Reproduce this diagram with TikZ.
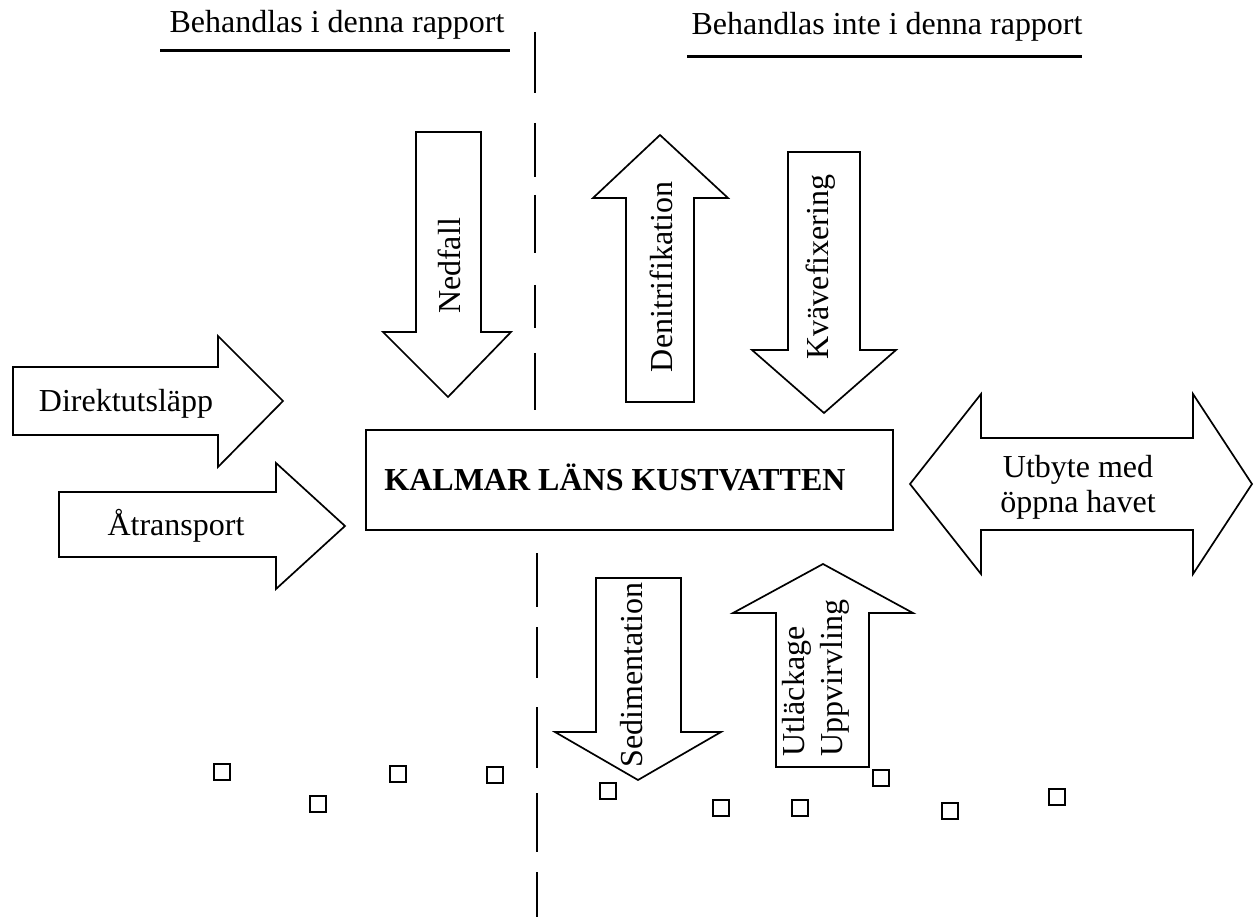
\documentclass[tikz,border=0pt]{standalone}
\usepackage{fontspec}
\setmainfont{Liberation Serif}
\begin{document}
\begin{tikzpicture}[x=1pt,y=-1pt,
  barrow/.style={draw, line width=1.7pt, line join=miter, fill=white},
  lbl/.style={inner sep=0pt, font=\fontsize{32}{35}\selectfont},
  sq/.style={draw, line width=1.9pt, minimum size=16pt, inner sep=0pt},
  dashseg/.style={line width=2.6pt},
  uline/.style={line width=3pt}]
\useasboundingbox (0,0) rectangle (1254,917);

% headers
\node[lbl, anchor=base] (hl) at (337,33) {Behandlas i denna rapport};
\node[lbl, anchor=base] (hr) at (887,35) {Behandlas inte i denna rapport};
\coordinate (hl1) at (160,51); \coordinate (hl2) at (510,51);
\coordinate (hr1) at (687,57); \coordinate (hr2) at (1082,57);
\draw[uline] (hl1) -- (hl2);
\draw[uline] (hr1) -- (hr2);

% dashed divider
\foreach \a/\b in {32/93,123/177,195/253,285/328,353/410}
  \draw[dashseg] (535,\a) -- (535,\b);
\foreach \a/\b in {553/607,627/678,707/768,793/852,872/917}
  \draw[dashseg] (537,\a) -- (537,\b);

% block arrows
\draw[barrow] (13,367) -- (218,367) -- (218,336) -- (283,401) -- (218,467) -- (218,435) -- (13,435) -- cycle;
\draw[barrow] (59,492) -- (276,492) -- (276,463) -- (345,526) -- (276,589) -- (276,557) -- (59,557) -- cycle;
\draw[barrow] (416,132) -- (481,132) -- (481,332) -- (511,332) -- (448,397) -- (383,332) -- (416,332) -- cycle;
\draw[barrow] (626,402) -- (626,198) -- (593,198) -- (660,135) -- (728,198) -- (694,198) -- (694,402) -- cycle;
\draw[barrow] (788,152) -- (860,152) -- (860,350) -- (896,350) -- (824,413) -- (752,350) -- (788,350) -- cycle;
\draw[barrow] (596,578) -- (681,578) -- (681,732) -- (721,732) -- (638,780) -- (555,732) -- (596,732) -- cycle;
\draw[barrow] (776,767) -- (776,613) -- (733,613) -- (823,564) -- (913,613) -- (869,613) -- (869,767) -- cycle;
\draw[barrow] (910,484) -- (981,394) -- (981,438) -- (1193,438) -- (1193,394) -- (1252,484) -- (1193,574) -- (1193,530) -- (981,530) -- (981,574) -- cycle;

% central box
\node[draw, line width=1.7pt, minimum width=527pt, minimum height=100pt, inner sep=0pt] (box) at (629.5,480) {};
\node[lbl, anchor=base, font=\fontsize{32}{35}\selectfont\bfseries] (kalmar) at (615,490) {KALMAR LÄNS KUSTVATTEN};

% labels
\node[lbl, anchor=base] (direkt) at (126,412) {Direktutsläpp};
\node[lbl, anchor=base] (atr) at (176,535) {Åtransport};
\node[lbl, anchor=base, rotate=90] (ned) at (460,266) {Nedfall};
\node[lbl, anchor=base, rotate=90] (deni) at (672,277) {Denitrifikation};
\node[lbl, anchor=base, rotate=90] (kvav) at (828,267) {Kvävefixering};
\node[lbl, anchor=base, rotate=90] (sedi) at (642,675) {Sedimentation};
\node[lbl, rotate=90, align=left, font=\fontsize{32}{38}\selectfont] (utl) at (816,678) {Utläckage\\Uppvirvling};
\node[lbl, align=center] (utb) at (1078,487) {Utbyte med\\öppna havet};

% small squares
\foreach \x/\y [count=\i] in {222/772,318/804,398/774,495/775,608/791,721/808,800/808,881/778,950/811,1057/797}
  \node[sq] (s\i) at (\x,\y) {};
\end{tikzpicture}
\end{document}
